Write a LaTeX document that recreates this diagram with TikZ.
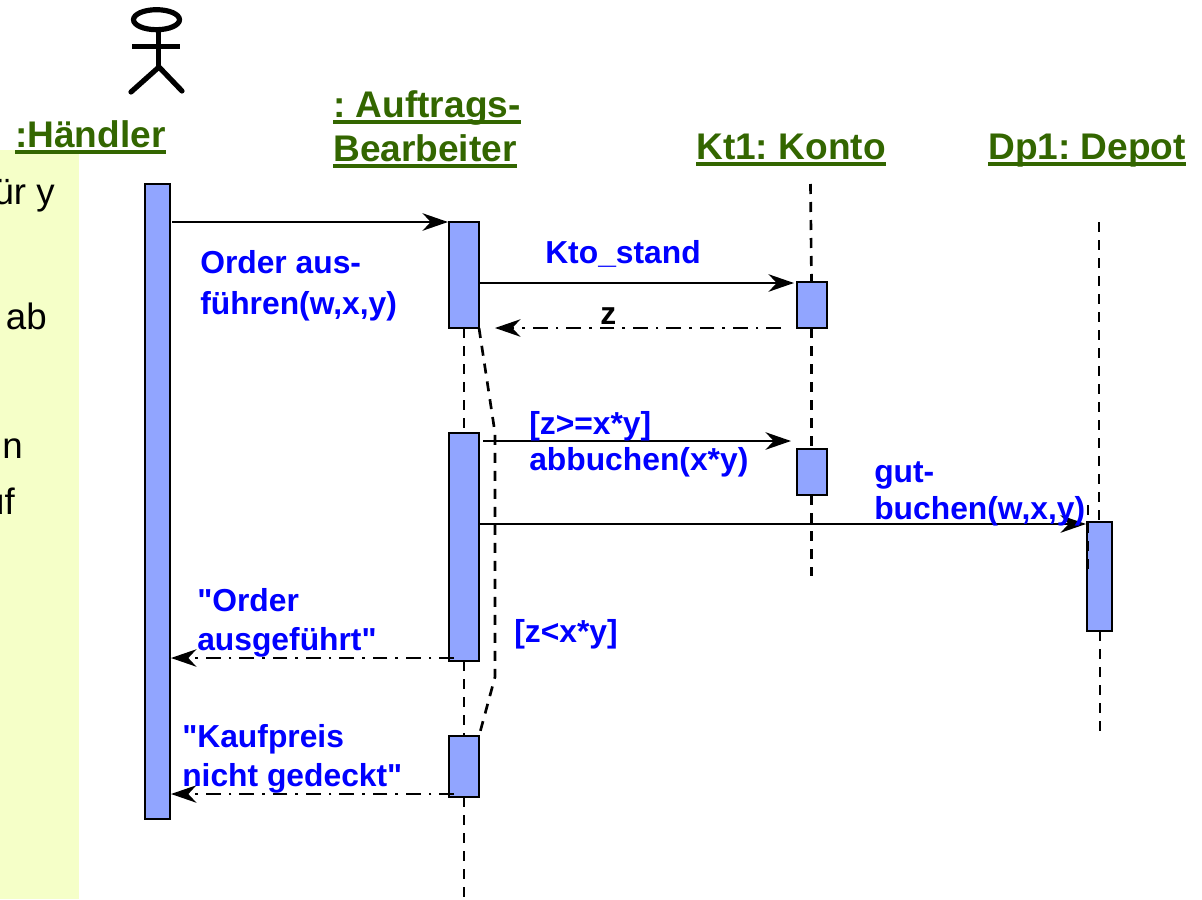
\documentclass[tikz,border=0pt]{standalone}
\usepackage{fontspec}
\setmainfont[Ligatures=TeXOff]{Liberation Sans}
\usetikzlibrary{arrows.meta}
\definecolor{barblue}{RGB}{145,165,255}
\definecolor{lifegreen}{RGB}{51,102,0}
\definecolor{noteyellow}{RGB}{245,255,200}
\definecolor{msgblue}{RGB}{0,0,255}
\newsavebox{\objbox}
\newcommand{\objul}[1]{\sbox{\objbox}{#1}\usebox{\objbox}\llap{\rule[-5.2pt]{\wd\objbox}{2.6pt}}}
\frenchspacing
\tikzset{
  x=0.75pt,y=-0.75pt,
  activation/.style={draw=black,fill=barblue,line width=2.2pt},
  objname/.style={text=lifegreen,font=\fontsize{27.8pt}{33pt}\selectfont\bfseries,inner sep=0pt,align=left},
  msglabel/.style={text=msgblue,font=\fontsize{23.85pt}{27.5pt}\selectfont\bfseries,inner sep=0pt,align=left},
  notetext/.style={text=black,font=\fontsize{27.5pt}{30pt}\selectfont,inner sep=0pt,anchor=base east},
  lifeline/.style={draw=black,line width=2pt,dash pattern=on 7.5pt off 6pt},
  callarrow/.style={draw=black,line width=2.2pt,-{Stealth[length=19pt,width=13pt,inset=6pt]}},
  returnarrow/.style={draw=black,line width=1.9pt,dash pattern=on 11pt off 6pt on 2pt off 6pt,-{Stealth[length=19pt,width=13pt,inset=6pt]}},
  actorline/.style={draw=black,line width=3.9pt,line cap=round}
}
\begin{document}
\begin{tikzpicture}
\useasboundingbox (0,0) rectangle (1202,899);
\begin{scope}
\clip (0,0) rectangle (1202,899);
\fill[noteyellow] (0,150) rectangle (79,899);
\node[notetext] (n1) at (55,204) {ür y};
\node[notetext] (n2) at (47,329) {ab};
\node[notetext] (n3) at (23,458) {n};
\node[notetext] (n4) at (15,514) {uf};
\end{scope}
% actor
\draw[actorline] (156.5,19.7) ellipse (23 and 10);
\draw[actorline,line cap=butt] (158.5,31) -- (158.5,67);
\draw[actorline,line cap=butt] (132,46.5) -- (180,46.5);
\draw[actorline] (131,92) -- (159,67) -- (182,91);
% names
\node[objname,anchor=base west] (hand) at (15,147) {\objul{:Händler}};
\node[objname,anchor=base west] (auf1) at (333,117) {\objul{: Auftrags-}};
\node[objname,anchor=base west] (auf2) at (333,161) {\objul{Bearbeiter}};
\node[objname,anchor=base west] (kt) at (696,159) {\objul{Kt1: Konto}};
\node[objname,anchor=base west] (dp) at (988,159) {\objul{Dp1: Depot}};
% lifelines
\coordinate (kt0) at (810.5,184);
\coordinate (kt1) at (811.5,282);
\coordinate (kt2) at (811.5,328);
\coordinate (kt3) at (811.5,449);
\coordinate (kt4) at (811.5,495);
\coordinate (kt5) at (811.5,576);
\coordinate (dp0) at (1099,222);
\coordinate (dp1) at (1099,522);
\coordinate (dp2) at (1100,631);
\coordinate (dp3) at (1100,731);
\coordinate (a1) at (464,328);
\coordinate (a2) at (464,433);
\coordinate (a3) at (464,661);
\coordinate (a4) at (464,736);
\coordinate (a5) at (464,797);
\coordinate (a6) at (464,899);
\draw[lifeline] (kt0) -- (kt1);
\draw[lifeline] (kt2) -- (kt3);
\draw[lifeline] (kt4) -- (kt5);
\draw[lifeline] (dp0) -- (dp1);
\draw[lifeline] (dp2) -- (dp3);
\draw[lifeline] (a1) -- (a2);
\draw[lifeline] (a3) -- (a4);
\draw[lifeline] (a5) -- (a6);
\coordinate (br0) at (479,328);
\coordinate (br1) at (495,433);
\coordinate (br2) at (495,677);
\coordinate (br3) at (479,736);
\draw[lifeline] (br0) -- (br1) -- (br2) -- (br3);
% activations
\path[activation] (145,184) rectangle (170,819);
\path[activation] (449,222) rectangle (479,328);
\path[activation] (449,433) rectangle (479,661);
\path[activation] (449,736) rectangle (479,797);
\path[activation] (797,282) rectangle (827,328);
\path[activation] (797,449) rectangle (827,495);
\path[activation] (1087,522) rectangle (1112,631);
\coordinate (dpl0) at (1088,505);
\coordinate (dpl1) at (1088,570);
\draw[lifeline,line width=1.4pt] (dpl0) -- (dpl1);
% messages
\coordinate (m1s) at (172,222); \coordinate (m1e) at (448,222);
\coordinate (m2s) at (480,283); \coordinate (m2e) at (794,283);
\coordinate (m3s) at (781,328); \coordinate (m3e) at (495,328);
\coordinate (m4s) at (483,441); \coordinate (m4e) at (791,441);
\coordinate (m5s) at (480,524); \coordinate (m5e) at (1086,524);
\coordinate (m6s) at (454,658); \coordinate (m6e) at (171,658);
\coordinate (m7s) at (454,794); \coordinate (m7e) at (171,794);
\draw[callarrow] (m1s) -- (m1e);
\draw[callarrow] (m2s) -- (m2e);
\draw[returnarrow] (m3s) -- (m3e);
\draw[callarrow] (m4s) -- (m4e);
\draw[callarrow] (m5s) -- (m5e);
\draw[returnarrow] (m6s) -- (m6e);
\draw[returnarrow] (m7s) -- (m7e);
% labels
\node[msglabel,anchor=base west] (l1a) at (200,273) {Order aus-};
\node[msglabel,anchor=base west] (l1b) at (200,314) {führen(w,x,y)};
\node[msglabel,anchor=base west] (l2) at (545,263) {Kto\_stand};
\node[msglabel,anchor=base west,text=black] (l3) at (600,324) {z};
\node[msglabel,anchor=base west] (l4a) at (529,434) {[z>=x*y]};
\node[msglabel,anchor=base west] (l4b) at (529,470) {abbuchen(x*y)};
\node[msglabel,anchor=base west] (l5a) at (874,482) {gut-};
\node[msglabel,anchor=base west] (l5b) at (874,519) {buchen(w,x,y)};
\node[msglabel,anchor=base west] (l6a) at (197,611) {"Order};
\node[msglabel,anchor=base west] (l6b) at (197,650) {ausgeführt"};
\node[msglabel,anchor=base west] (l7) at (514,642) {[z<x*y]};
\node[msglabel,anchor=base west] (l8a) at (182,747) {"Kaufpreis};
\node[msglabel,anchor=base west] (l8b) at (182,786) {nicht gedeckt"};
\end{tikzpicture}
\end{document}
